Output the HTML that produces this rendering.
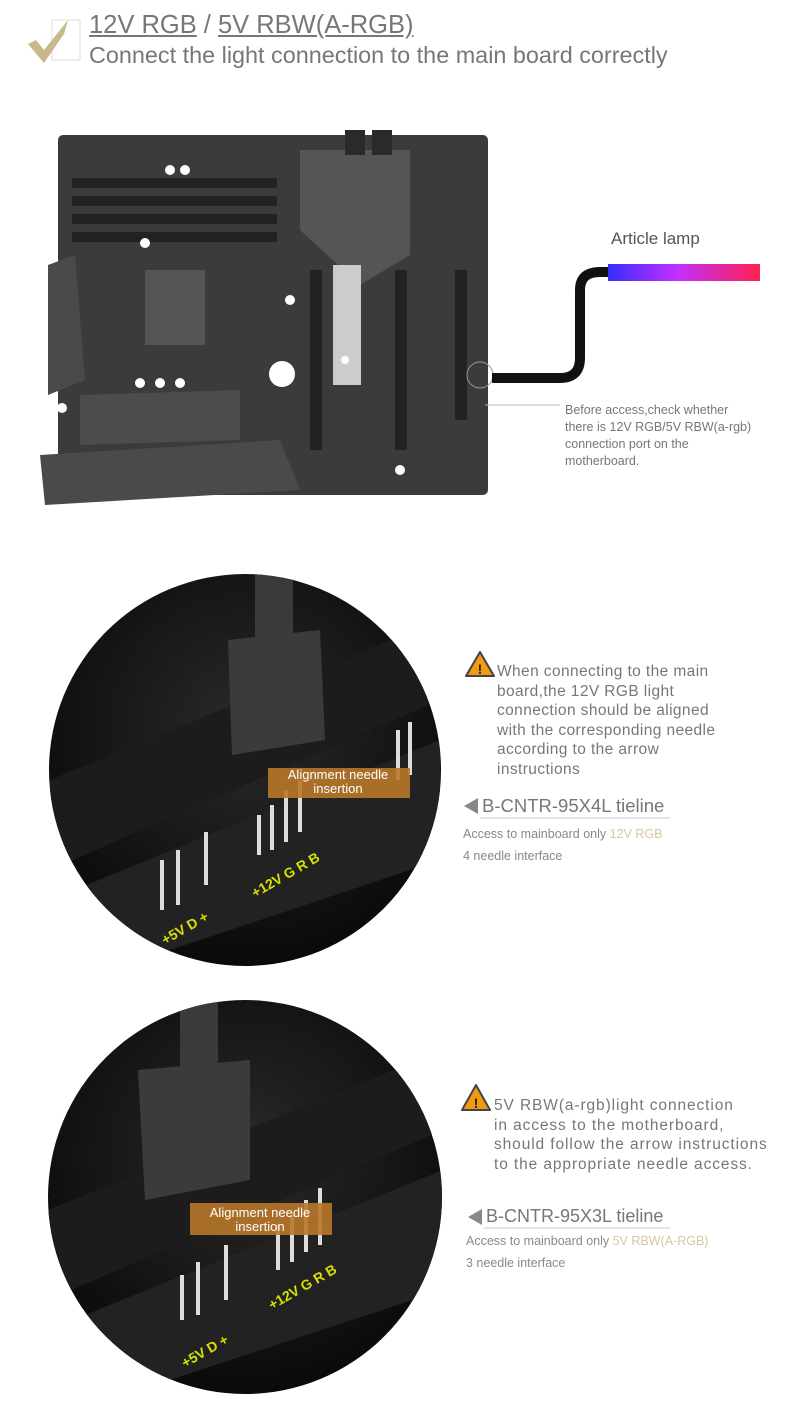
<!DOCTYPE html>
<html><head><meta charset="utf-8"><style>
body{margin:0;background:#fff;width:804px;height:1415px;position:relative;overflow:hidden;font-family:"Liberation Sans",sans-serif;color:#666}
.t{position:absolute;white-space:nowrap}
</style></head><body>
<svg width="804" height="1415" style="position:absolute;left:0;top:0">
<defs>
<linearGradient id="lamp" x1="0" x2="1"><stop offset="0" stop-color="#3a2cff"/><stop offset=".45" stop-color="#c030ff"/><stop offset="1" stop-color="#ff2050"/></linearGradient>
<radialGradient id="cg" cx=".5" cy=".4" r=".6"><stop offset="0" stop-color="#2a2a2a"/><stop offset="1" stop-color="#0a0a0a"/></radialGradient>
<clipPath id="c1"><circle cx="245" cy="770" r="196"/></clipPath>
<clipPath id="c2"><circle cx="245" cy="1197" r="197"/></clipPath>
</defs>
<rect x="52" y="20" width="28" height="40" fill="none" stroke="#ddd"/>
<path d="M28 44 L36 40 L44 50 L68 20 L64 34 L44 63 Z" fill="#c8b88a"/>
<rect x="58" y="135" width="430" height="360" rx="5" fill="#3b3b3b"/>
<rect x="72" y="178" width="205" height="10" fill="#222"/><rect x="72" y="196" width="205" height="10" fill="#222"/><rect x="72" y="214" width="205" height="10" fill="#222"/><rect x="72" y="232" width="205" height="10" fill="#222"/>
<polygon points="300,150 410,150 410,255 360,285 300,230" fill="#555"/>
<rect x="145" y="270" width="60" height="75" fill="#555"/>
<rect x="310" y="270" width="12" height="180" fill="#222"/><rect x="395" y="270" width="12" height="180" fill="#222"/><rect x="455" y="270" width="12" height="150" fill="#222"/>
<rect x="333" y="265" width="28" height="120" fill="#ccc"/>
<polygon points="48,265 75,255 85,380 48,395" fill="#4a4a4a"/>
<polygon points="80,395 240,390 240,440 80,445" fill="#4c4c4c"/>
<polygon points="40,455 280,440 300,490 45,505" fill="#4a4a4a"/>
<rect x="345" y="130" width="20" height="25" fill="#2a2a2a"/><rect x="372" y="130" width="20" height="25" fill="#2a2a2a"/>
<g fill="#fff"><circle cx="145" cy="243" r="5"/><circle cx="290" cy="300" r="5"/><circle cx="160" cy="383" r="5"/><circle cx="140" cy="383" r="5"/><circle cx="180" cy="383" r="5"/><circle cx="170" cy="170" r="5"/><circle cx="185" cy="170" r="5"/><circle cx="282" cy="374" r="13"/><circle cx="400" cy="470" r="5"/><circle cx="345" cy="360" r="4"/><circle cx="62" cy="408" r="5"/></g>
<circle cx="480" cy="375" r="13" fill="none" stroke="#999"/>
<path d="M492 378 L560 378 Q580 378 580 358 L580 290 Q580 272 600 272 L612 272" fill="none" stroke="#111" stroke-width="10"/>
<rect x="608" y="264" width="152" height="17" fill="url(#lamp)"/>
<line x1="485" y1="405" x2="560" y2="405" stroke="#bbb"/>
<circle cx="245" cy="770" r="196" fill="url(#cg)"/>
<g clip-path="url(#c1)">
<polygon points="50,780 440,620 440,700 50,870" fill="#1c1c1c"/>
<polygon points="50,900 440,740 440,860 50,990" fill="#222"/>
<rect x="255" y="570" width="38" height="70" fill="#3a3a3a"/>
<polygon points="228,640 320,630 325,740 232,755" fill="#3b3b3b"/>
<g stroke="#ddd" stroke-width="4"><line x1="162" y1="860" x2="162" y2="910"/><line x1="178" y1="850" x2="178" y2="905"/><line x1="206" y1="832" x2="206" y2="885"/><line x1="259" y1="815" x2="259" y2="855"/><line x1="272" y1="805" x2="272" y2="850"/><line x1="286" y1="790" x2="286" y2="842"/><line x1="300" y1="780" x2="300" y2="832"/><line x1="398" y1="730" x2="398" y2="780"/><line x1="410" y1="722" x2="410" y2="775"/></g>
<text x="255" y="898" fill="#d7e000" font-size="14" font-weight="bold" transform="rotate(-30 255 898)">+12V G R B</text>
<text x="165" y="945" fill="#d7e000" font-size="14" font-weight="bold" transform="rotate(-30 165 945)">+5V D  +</text>
</g>
<rect x="268" y="768" width="142" height="30" fill="#b8782a" opacity=".9"/>
<circle cx="245" cy="1197" r="197" fill="url(#cg)"/>
<g clip-path="url(#c2)">
<polygon points="48,1210 443,1050 443,1130 48,1300" fill="#1c1c1c"/>
<polygon points="48,1330 443,1170 443,1290 48,1420" fill="#222"/>
<rect x="180" y="1000" width="38" height="70" fill="#3a3a3a"/>
<polygon points="138,1070 250,1060 250,1180 145,1200" fill="#3b3b3b"/>
<g stroke="#ddd" stroke-width="4"><line x1="182" y1="1275" x2="182" y2="1320"/><line x1="198" y1="1262" x2="198" y2="1315"/><line x1="226" y1="1245" x2="226" y2="1300"/><line x1="278" y1="1225" x2="278" y2="1270"/><line x1="292" y1="1215" x2="292" y2="1262"/><line x1="306" y1="1200" x2="306" y2="1252"/><line x1="320" y1="1188" x2="320" y2="1245"/></g>
<text x="272" y="1310" fill="#d7e000" font-size="14" font-weight="bold" transform="rotate(-30 272 1310)">+12V G R B</text>
<text x="185" y="1368" fill="#d7e000" font-size="14" font-weight="bold" transform="rotate(-30 185 1368)">+5V D  +</text>
</g>
<rect x="190" y="1203" width="142" height="32" fill="#b8782a" opacity=".9"/>
<polygon points="480,652 494,676 466,676" fill="#f39a12" stroke="#444" stroke-width="2" stroke-linejoin="round"/>
<text x="480" y="674" font-size="14" font-weight="bold" text-anchor="middle" fill="#222">!</text>
<polygon points="476,1085 490,1110 462,1110" fill="#f39a12" stroke="#444" stroke-width="2" stroke-linejoin="round"/>
<text x="476" y="1108" font-size="14" font-weight="bold" text-anchor="middle" fill="#222">!</text>
<polygon points="464,806 478,798 478,814" fill="#888"/>
<polygon points="468,1217 482,1209 482,1225" fill="#888"/>
<line x1="480" y1="818" x2="670" y2="818" stroke="#ccc"/>
<line x1="484" y1="1228" x2="670" y2="1228" stroke="#ccc"/>
</svg>
<div class="t" style="left:89px;top:11px;font-size:25.5px;color:#777"><u>12V RGB</u> / <u>5V RBW(A-RGB)</u></div>
<div class="t" style="left:89px;top:42px;font-size:23.4px;color:#777">Connect the light connection to the main board correctly</div>
<div class="t" style="left:611px;top:229px;font-size:17px;color:#555">Article lamp</div>
<div class="t" style="left:565px;top:402px;font-size:12.5px;line-height:17px;color:#777">Before access,check whether<br>there is 12V RGB/5V RBW(a-rgb)<br>connection port on the<br>motherboard.</div>
<div class="t" style="left:273px;top:768px;width:130px;text-align:center;font-size:13px;line-height:14px;color:#fff">Alignment needle<br>insertion</div>
<div class="t" style="left:195px;top:1206px;width:130px;text-align:center;font-size:13px;line-height:14px;color:#fff">Alignment needle<br>insertion</div>
<div class="t" style="left:497px;top:662px;font-size:15.5px;letter-spacing:0.4px;line-height:19.5px;color:#777">When connecting to the main<br>board,the 12V RGB light<br>connection should be aligned<br>with the corresponding needle<br>according to the arrow<br>instructions</div>
<div class="t" style="left:482px;top:795px;font-size:18.5px;color:#777">B-CNTR-95X4L tieline</div>
<div class="t" style="left:463px;top:823px;font-size:12.5px;line-height:22px;color:#888">Access to mainboard only <span style="color:#d8c8a0">12V RGB</span><br>4 needle interface</div>
<div class="t" style="left:494px;top:1096px;font-size:15.5px;letter-spacing:0.9px;line-height:19.5px;color:#777">5V RBW(a-rgb)light connection<br>in access to the motherboard,<br>should follow the arrow instructions<br>to the appropriate needle access.</div>
<div class="t" style="left:486px;top:1206px;font-size:18px;color:#777">B-CNTR-95X3L tieline</div>
<div class="t" style="left:466px;top:1230px;font-size:12.5px;line-height:22px;color:#888">Access to mainboard only <span style="color:#d8c8a0">5V RBW(A-RGB)</span><br>3 needle interface</div>
</body></html>
